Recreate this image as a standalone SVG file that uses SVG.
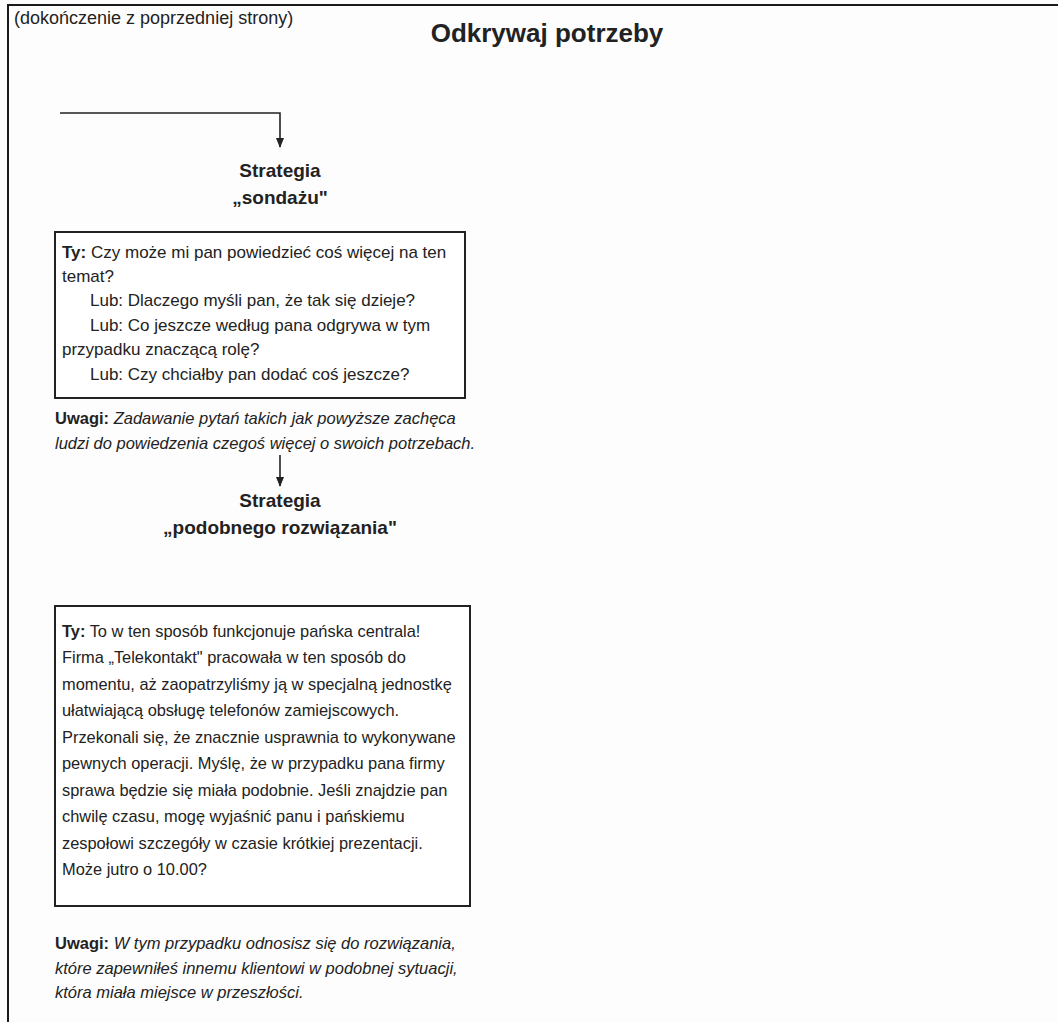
<svg xmlns="http://www.w3.org/2000/svg" width="1058" height="1022" viewBox="0 0 1058 1022">
<defs>
<marker id="arr" markerWidth="10" markerHeight="8" refX="9" refY="4" orient="auto" markerUnits="userSpaceOnUse" viewBox="0 0 10 8">
<path d="M0,0 L10,4 L0,8 Z" fill="#222"/>
</marker>
<style>
text{font-family:"Liberation Sans",Arial,sans-serif;fill:#222}
.body{font-size:17px}
.body2{font-size:16.4px}
.small{font-size:18px}
.title{font-size:26px;font-weight:bold}
.head{font-size:19px;font-weight:bold}
.b{font-weight:bold}
.i{font-style:italic}
.note{font-size:16.5px}
.box{fill:#fff;stroke:#222;stroke-width:2}
.conn{fill:none;stroke:#222;stroke-width:1.6}
</style>
</defs>
<rect width="1058" height="1022" fill="#fdfdfd"/>
<path d="M8,1022 V5 H1058" fill="none" stroke="#1a1a1a" stroke-width="2"/>
<text class="small" x="14" y="24">(dokończenie z poprzedniej strony)</text>
<text class="title" x="547" y="42" text-anchor="middle">Odkrywaj potrzeby</text>

<g id="connectors">
<path class="conn" d="M60,113 H280 V147" marker-end="url(#arr)"/>
<path class="conn" d="M280,455 V486" marker-end="url(#arr)"/>
</g>

<g id="heading1">
<text class="head" x="280" y="177" text-anchor="middle">Strategia</text>
<text class="head" x="280" y="204" text-anchor="middle">„sondażu"</text>
</g>

<g id="box1">
<rect class="box" x="55" y="232" width="410" height="166"/>
<text class="body" x="62" y="258"><tspan class="b">Ty:</tspan> Czy może mi pan powiedzieć coś więcej na ten</text>
<text class="body" x="62" y="282">temat?</text>
<text class="body" x="90" y="306">Lub: Dlaczego myśli pan, że tak się dzieje?</text>
<text class="body" x="90" y="331">Lub: Co jeszcze według pana odgrywa w tym</text>
<text class="body" x="62" y="355">przypadku znaczącą rolę?</text>
<text class="body" x="90" y="380">Lub: Czy chciałby pan dodać coś jeszcze?</text>
</g>

<g id="note1">
<text class="note" x="55" y="424"><tspan class="b">Uwagi:</tspan> <tspan class="i">Zadawanie pytań takich jak powyższe zachęca</tspan></text>
<text class="note i" x="55" y="449">ludzi do powiedzenia czegoś więcej o swoich potrzebach.</text>
</g>

<g id="heading2">
<text class="head" x="280" y="507" text-anchor="middle">Strategia</text>
<text class="head" x="280" y="534" text-anchor="middle">„podobnego rozwiązania"</text>
</g>

<g id="box2">
<rect class="box" x="55" y="606" width="415" height="300"/>
<text class="body2" x="62" y="637"><tspan class="b">Ty:</tspan> To w ten sposób funkcjonuje pańska centrala!</text>
<text class="body2" x="62" y="663">Firma „Telekontakt" pracowała w ten sposób do</text>
<text class="body2" x="62" y="690">momentu, aż zaopatrzyliśmy ją w specjalną jednostkę</text>
<text class="body2" x="62" y="716">ułatwiającą obsługę telefonów zamiejscowych.</text>
<text class="body2" x="62" y="743">Przekonali się, że znacznie usprawnia to wykonywane</text>
<text class="body2" x="62" y="769">pewnych operacji. Myślę, że w przypadku pana firmy</text>
<text class="body2" x="62" y="796">sprawa będzie się miała podobnie. Jeśli znajdzie pan</text>
<text class="body2" x="62" y="822">chwilę czasu, mogę wyjaśnić panu i pańskiemu</text>
<text class="body2" x="62" y="849">zespołowi szczegóły w czasie krótkiej prezentacji.</text>
<text class="body2" x="62" y="875">Może jutro o 10.00?</text>
</g>

<g id="note2">
<text class="note" x="55" y="949"><tspan class="b">Uwagi:</tspan> <tspan class="i">W tym przypadku odnosisz się do rozwiązania,</tspan></text>
<text class="note i" x="55" y="974">które zapewniłeś innemu klientowi w podobnej sytuacji,</text>
<text class="note i" x="55" y="998">która miała miejsce w przeszłości.</text>
</g>
</svg>
